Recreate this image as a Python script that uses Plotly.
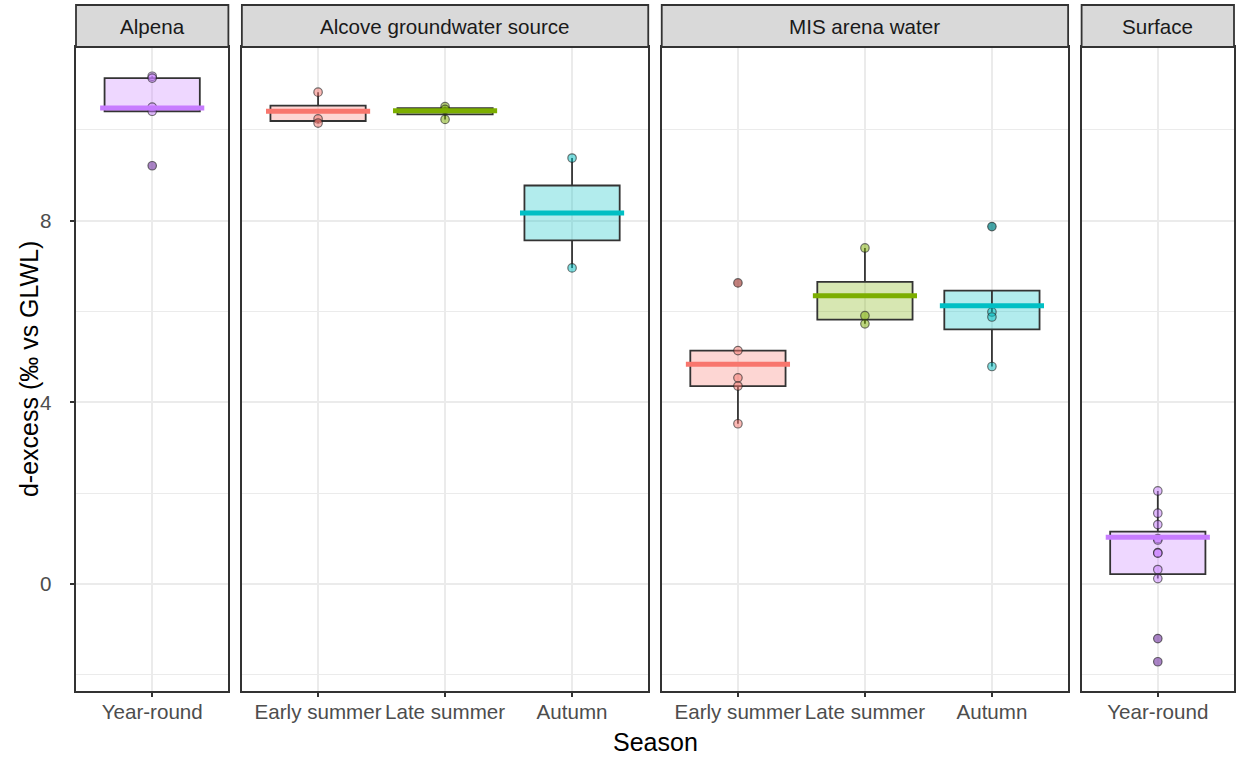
import numpy as np
import plotly.graph_objects as go

# ---- data -----------------------------------------------------------------
facets = ["Alpena", "Alcove groundwater source", "MIS arena water", "Surface"]
facet_seasons = [
    ["Year-round"],
    ["Early summer", "Late summer", "Autumn"],
    ["Early summer", "Late summer", "Autumn"],
    ["Year-round"],
]

alpena_year_round = [11.18, 11.14, 10.50, 10.41, 9.21]
alcove_early_summer = [10.83, 10.24, 10.15]
alcove_late_summer = [10.51, 10.45, 10.23]
alcove_autumn = [9.38, 6.96]
mis_early_summer = [6.63, 5.14, 4.54, 4.36, 3.53]
mis_late_summer = [7.40, 5.91, 5.73]
mis_autumn = [7.87, 5.99, 5.88, 4.79]
surface_year_round = [2.05, 1.56, 1.31, 1.00, 0.97, 0.69, 0.68, 0.32, 0.12, -1.20, -1.71]

# summary level drawn as the thick coloured bar across each box
alpena_level = [10.48]
alcove_level = [10.41, 10.42, 8.17]
mis_level = [4.84, 6.35, 6.13]
surface_level = [1.03]

facet_values = [
    [alpena_year_round],
    [alcove_early_summer, alcove_late_summer, alcove_autumn],
    [mis_early_summer, mis_late_summer, mis_autumn],
    [surface_year_round],
]
facet_levels = [alpena_level, alcove_level, mis_level, surface_level]

season_colors = {
    "Early summer": (248, 118, 109),
    "Late summer": (124, 174, 0),
    "Autumn": (0, 191, 196),
    "Year-round": (199, 124, 255),
}


def rgba(rgb, a):
    return "rgba(%d,%d,%d,%.3f)" % (rgb[0], rgb[1], rgb[2], a)


def hexcol(rgb):
    return "#%02X%02X%02X" % rgb


def box_stats(v):
    v = np.asarray(v, dtype=float)
    q1, q3 = np.percentile(v, [25, 75])
    iqr = q3 - q1
    lo_f, hi_f = q1 - 1.5 * iqr, q3 + 1.5 * iqr
    inside = v[(v >= lo_f) & (v <= hi_f)]
    lo, hi = inside.min(), inside.max()
    out = (v < lo_f) | (v > hi_f)
    return q1, q3, lo, hi, out


# ---- layout geometry --------------------------------------------------------
W, H = 1238, 757
ML, MR, MT, MB = 76, 2, 47, 66
plot_w = W - ML - MR
plot_h = H - MT - MB
gap_px = 13.5
units = [len(s) + 0.2 for s in facet_seasons]
px_per_unit = (plot_w - gap_px * (len(facets) - 1)) / sum(units)

domains = []
cur = 0.0
for u in units:
    w = u * px_per_unit
    domains.append([cur / plot_w, (cur + w) / plot_w])
    cur += w + gap_px

all_vals = np.concatenate([np.asarray(v) for f in facet_values for v in f])
vmin, vmax = all_vals.min(), all_vals.max()
pad = 0.05 * (vmax - vmin)
y_range = [vmin - pad, vmax + pad]

DARK = "#333333"
GRID = "#EBEBEB"
FONT = "Liberation Sans, Arial, Helvetica, sans-serif"
TICK_SIZE = 20.6

fig = go.Figure()

for i, (seasons, groups, levels) in enumerate(zip(facet_seasons, facet_values, facet_levels)):
    xa = "x" if i == 0 else "x%d" % (i + 1)
    ya = "y" if i == 0 else "y%d" % (i + 1)
    pos = list(range(1, len(seasons) + 1))

    stats = [box_stats(g) for g in groups]

    # box bodies
    fig.add_trace(go.Bar(
        x=pos,
        base=[s[0] for s in stats],
        y=[s[1] - s[0] for s in stats],
        width=0.75,
        marker=dict(
            color=[rgba(season_colors[s], 0.3) for s in seasons],
            line=dict(color=DARK, width=1.8),
        ),
        xaxis=xa, yaxis=ya, showlegend=False, hoverinfo="skip",
    ))

    # whiskers
    wx, wy = [], []
    for p, s in zip(pos, stats):
        wx += [p, p, None, p, p, None]
        wy += [s[1], s[3], None, s[0], s[2], None]
    fig.add_trace(go.Scatter(
        x=wx, y=wy, mode="lines",
        line=dict(color=DARK, width=1.8),
        xaxis=xa, yaxis=ya, showlegend=False, hoverinfo="skip",
    ))

    # individual samples (outliers get a darker underlay)
    for p, season, g, s in zip(pos, seasons, groups, stats):
        g = np.asarray(g)
        out = s[4]
        if out.any():
            fig.add_trace(go.Scatter(
                x=[p] * int(out.sum()), y=g[out], mode="markers",
                marker=dict(size=8.5, color="rgba(0,0,0,0.45)",
                            line=dict(width=0)),
                xaxis=xa, yaxis=ya, showlegend=False, hoverinfo="skip",
            ))
        fig.add_trace(go.Scatter(
            x=[p] * len(g), y=g, mode="markers",
            marker=dict(size=8.5, color=rgba(season_colors[season], 0.5),
                        line=dict(color="rgba(30,30,30,0.6)", width=1.2)),
            xaxis=xa, yaxis=ya, showlegend=False,
        ))

    # summary bars
    for p, season, lv in zip(pos, seasons, levels):
        fig.add_trace(go.Scatter(
            x=[p - 0.41, p + 0.41], y=[lv, lv], mode="lines",
            line=dict(color=hexcol(season_colors[season]), width=5),
            xaxis=xa, yaxis=ya, showlegend=False, hoverinfo="skip",
        ))

    axis_common = dict(
        showline=True, mirror=True, linecolor=DARK, linewidth=1.8,
        ticks="outside", ticklen=4.5, tickwidth=1.5, tickcolor=DARK,
        tickfont=dict(family=FONT, size=TICK_SIZE, color="#4D4D4D"),
        zeroline=False,
    )
    fig.layout[("xaxis" if i == 0 else "xaxis%d" % (i + 1))] = dict(
        axis_common,
        domain=domains[i], anchor=ya,
        range=[0.4, len(seasons) + 0.6],
        tickvals=pos, ticktext=seasons,
        showgrid=True, gridcolor=GRID, gridwidth=2,
        ticklabelstandoff=-3,
    )
    yax = dict(
        axis_common,
        domain=[0, 1], anchor=xa,
        range=y_range,
        tickvals=[0, 4, 8],
        showgrid=True, gridcolor=GRID, gridwidth=2,
        minor=dict(tickvals=[-2, 2, 6, 10], showgrid=True, gridcolor=GRID,
                   gridwidth=1, ticks=""),
        ticklabelstandoff=14,
    )
    if i > 0:
        yax.update(matches="y", showticklabels=False, ticks="")
    fig.layout[("yaxis" if i == 0 else "yaxis%d" % (i + 1))] = yax

    # facet strip
    strip_h = (MT - 5) / plot_h
    fig.add_shape(
        type="rect", xref="%s domain" % xa, yref="paper",
        x0=0, x1=1, y0=1, y1=1 + strip_h,
        fillcolor="#D9D9D9", line=dict(color=DARK, width=1.8), layer="above",
    )
    fig.add_annotation(
        text=facets[i], xref="%s domain" % xa, yref="paper",
        x=0.5, y=1 + strip_h / 2, xanchor="center", yanchor="middle",
        showarrow=False, font=dict(family=FONT, size=TICK_SIZE, color="#1A1A1A"),
    )

# axis titles
fig.add_annotation(
    text="Season", xref="paper", yref="paper",
    x=0.5, y=-(742 - (H - MB)) / plot_h, xanchor="center", yanchor="middle",
    showarrow=False, font=dict(family=FONT, size=25, color="#000000"),
)
fig.add_annotation(
    text="d-excess (‰ vs GLWL)", xref="paper", yref="paper",
    x=(29 - ML) / plot_w, y=0.5, xanchor="center", yanchor="middle",
    textangle=-90, showarrow=False,
    font=dict(family=FONT, size=25, color="#000000"),
)

fig.update_layout(
    width=W, height=H, autosize=False,
    margin=dict(l=ML, r=MR, t=MT, b=MB, pad=0),
    paper_bgcolor="white", plot_bgcolor="white",
    barmode="overlay", showlegend=False,
)

fig.write_html("out.html")
